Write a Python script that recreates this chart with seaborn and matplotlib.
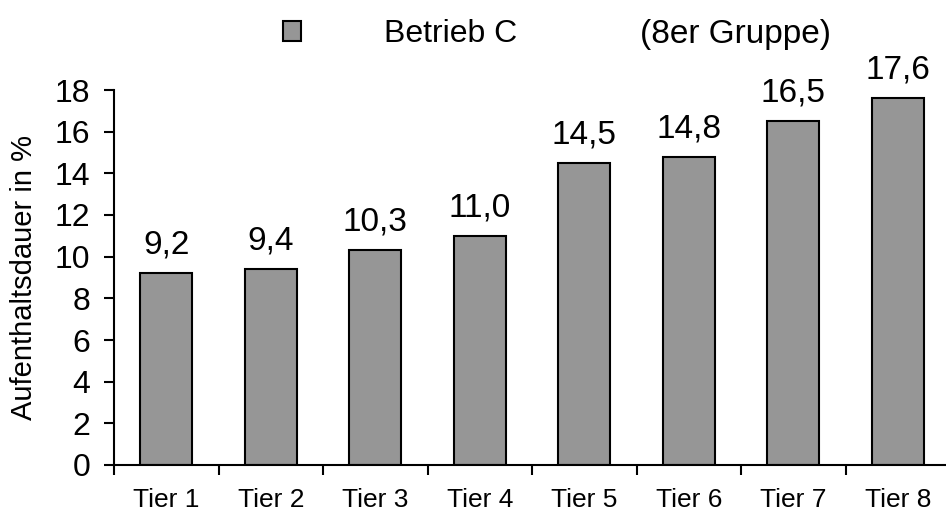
import numpy as np
import pandas as pd
import seaborn as sns
import matplotlib.pyplot as plt
from matplotlib.patches import Patch

tiere = ['Tier 1', 'Tier 2', 'Tier 3', 'Tier 4', 'Tier 5', 'Tier 6', 'Tier 7', 'Tier 8']
werte = [9.2, 9.4, 10.3, 11.0, 14.5, 14.8, 16.5, 17.6]
y_ticks = [0, 2, 4, 6, 8, 10, 12, 14, 16, 18]

sns.set_style('ticks')
plt.rcParams['font.family'] = ['Liberation Sans', 'DejaVu Sans']
plt.rcParams['text.color'] = 'black'
plt.rcParams['axes.labelcolor'] = 'black'
plt.rcParams['xtick.color'] = 'black'
plt.rcParams['ytick.color'] = 'black'

df = pd.DataFrame({'tier': tiere, 'wert': werte})

fig = plt.figure(figsize=(9.46, 5.18), dpi=100)
ax = fig.add_axes([114 / 946, 53 / 518, 836 / 946, 375 / 518])

sns.barplot(data=df, x='tier', y='wert', color='#969696', saturation=1,
            edgecolor='black', linewidth=1.5, width=0.5, ax=ax)

ax.set_ylim(0, 18)
ax.set_xlim(-0.5, len(tiere) - 0.5)
ax.set_yticks(y_ticks)
ax.tick_params(axis='y', labelsize=23, length=7, width=1.5, direction='out', pad=10)
# Beschriftung unten knapp am Rand, etwas hoeher damit nichts abgeschnitten wird
ax.tick_params(axis='x', which='major', labelsize=19, length=0, pad=16.5)
ax.set_xticks(np.arange(len(tiere) + 1) - 0.5, minor=True)
ax.tick_params(axis='x', which='minor', length=7, width=1.5, direction='out')

for side in ['top', 'right']:
    ax.spines[side].set_visible(False)
for side in ['left', 'bottom']:
    ax.spines[side].set_linewidth(1.5)
    ax.spines[side].set_color('black')

ax.set_xlabel('')
ax.set_ylabel('Aufenthaltsdauer in %', fontsize=21, labelpad=12)

ax.bar_label(ax.containers[0], labels=[f'{v:.1f}'.replace('.', ',') for v in werte],
             fontsize=24, padding=9)

handle = Patch(facecolor='#969696', edgecolor='black', linewidth=1.5)
fig.legend(handles=[handle], labels=['Betrieb C'], loc='center left',
           bbox_to_anchor=(283 / 946, 1 - 34 / 518), frameon=False, fontsize=23,
           handlelength=0.57, handleheight=0.57, handletextpad=2.6, borderpad=0,
           borderaxespad=0)
fig.text(640 / 946, 1 - 34 / 518, '(8er Gruppe)', fontsize=24, va='center', ha='left')

fig.savefig('out.png', dpi=100)
